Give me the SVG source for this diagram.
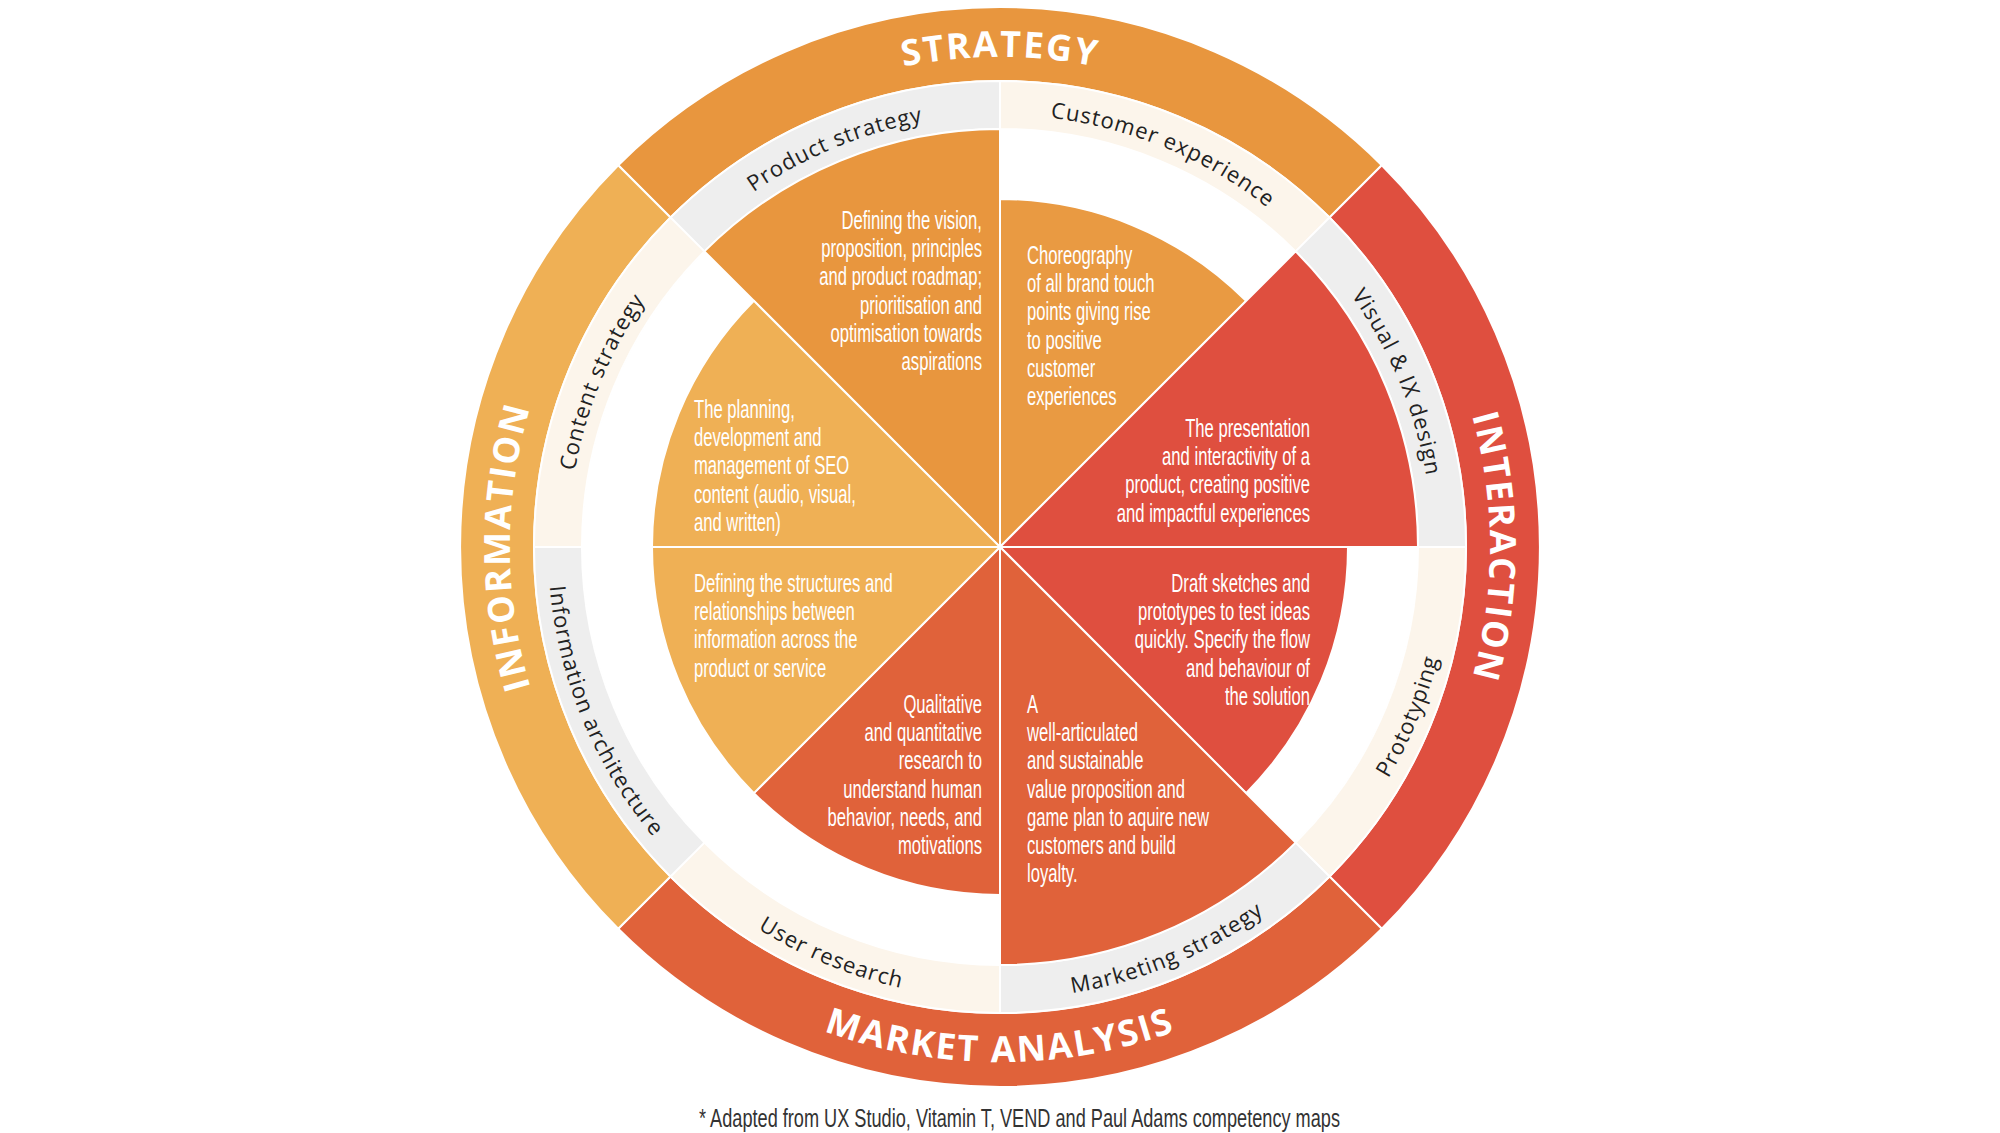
<svg xmlns="http://www.w3.org/2000/svg" width="2000" height="1133" viewBox="0 0 2000 1133">
<style>
.sep{stroke:#fff;stroke-width:2}
.ol{font-family:"Open Sans","Liberation Sans",sans-serif;font-weight:bold;font-size:36px;fill:#fff;letter-spacing:2px}
.sl{font-family:"Open Sans","Liberation Sans",sans-serif;font-size:22px;fill:#222;letter-spacing:1px}
.wt{font-family:"Liberation Sans Narrow","Liberation Sans",sans-serif;font-size:26px;fill:#fff}
.r{text-anchor:end}
</style>
<defs>
<path id="pS" d="M653.5,200.5 A490 490 0 0 1 1346.5,200.5"/>
<path id="pI" d="M1346.5,200.5 A490 490 0 0 1 1346.5,893.5"/>
<path id="pN" d="M653.5,893.5 A490 490 0 0 1 653.5,200.5"/>
<path id="pM" d="M635.8,911.2 A515 515 0 0 0 1364.2,911.2"/>
<path id="qP" d="M694.5,241.5 A432 432 0 0 1 1000,115"/>
<path id="qC" d="M1000,115 A432 432 0 0 1 1305.5,241.5"/>
<path id="qV" d="M1305.5,241.5 A432 432 0 0 1 1432,547"/>
<path id="qT" d="M568,547 A432 432 0 0 1 694.5,241.5"/>
<path id="qR" d="M1319.6,866.6 A452 452 0 0 0 1452,547"/>
<path id="qM" d="M1000,999 A452 452 0 0 0 1319.6,866.6"/>
<path id="qU" d="M680.4,866.6 A452 452 0 0 0 1000,999"/>
<path id="qA" d="M548,547 A452 452 0 0 0 680.4,866.6"/>
</defs>
<rect width="2000" height="1133" fill="#fff"/>
<g id="outer-ring" class="sep">
<path id="ring-strategy" fill="#E8963E" d="M618.2,165.2 A540 540 0 0 1 1381.8,165.2 L1329.5,217.5 A466 466 0 0 0 670.5,217.5 Z"/>
<path id="ring-interaction" fill="#DF4F3F" d="M1381.8,165.2 A540 540 0 0 1 1381.8,928.8 L1329.5,876.5 A466 466 0 0 0 1329.5,217.5 Z"/>
<path id="ring-market" fill="#E0623A" d="M1381.8,928.8 A540 540 0 0 1 618.2,928.8 L670.5,876.5 A466 466 0 0 0 1329.5,876.5 Z"/>
<path id="ring-information" fill="#EFB055" d="M618.2,928.8 A540 540 0 0 1 618.2,165.2 L670.5,217.5 A466 466 0 0 0 670.5,876.5 Z"/>
</g>
<g id="sub-ring" class="sep">
<path fill="#EEEEEE" d="M670.5,217.5 A466 466 0 0 1 1000,81 L1000,129 A418 418 0 0 0 704.4,251.4 Z"/>
<path fill="#FCF5EB" d="M1000,81 A466 466 0 0 1 1329.5,217.5 L1295.6,251.4 A418 418 0 0 0 1000,129 Z"/>
<path fill="#EEEEEE" d="M1329.5,217.5 A466 466 0 0 1 1466,547 L1418,547 A418 418 0 0 0 1295.6,251.4 Z"/>
<path fill="#FCF5EB" d="M1466,547 A466 466 0 0 1 1329.5,876.5 L1295.6,842.6 A418 418 0 0 0 1418,547 Z"/>
<path fill="#EEEEEE" d="M1329.5,876.5 A466 466 0 0 1 1000,1013 L1000,965 A418 418 0 0 0 1295.6,842.6 Z"/>
<path fill="#FCF5EB" d="M1000,1013 A466 466 0 0 1 670.5,876.5 L704.4,842.6 A418 418 0 0 0 1000,965 Z"/>
<path fill="#EEEEEE" d="M670.5,876.5 A466 466 0 0 1 534,547 L582,547 A418 418 0 0 0 704.4,842.6 Z"/>
<path fill="#FCF5EB" d="M534,547 A466 466 0 0 1 670.5,217.5 L704.4,251.4 A418 418 0 0 0 582,547 Z"/>
</g>
<g id="wedges" class="sep">
<path id="w-product" fill="#E8963E" d="M1000,547 L1000,129 A418 418 0 0 0 704.4,251.4 Z"/>
<path id="w-customer" fill="#E99A42" d="M1000,547 L1000,199 A348 348 0 0 1 1246.1,300.9 Z"/>
<path id="w-visual" fill="#DF4F3F" d="M1000,547 L1295.6,251.4 A418 418 0 0 1 1418,547 Z"/>
<path id="w-proto" fill="#DF4F3F" d="M1000,547 L1348,547 A348 348 0 0 1 1246.1,793.1 Z"/>
<path id="w-marketing" fill="#E0623A" d="M1000,547 L1295.6,842.6 A418 418 0 0 1 1000,965 Z"/>
<path id="w-user" fill="#E0623A" d="M1000,547 L1000,895 A348 348 0 0 1 753.9,793.1 Z"/>
<path id="w-infoarch" fill="#EFB055" d="M1000,547 L753.9,793.1 A348 348 0 0 1 652,547 Z"/>
<path id="w-content" fill="#EFB055" d="M1000,547 L652,547 A348 348 0 0 1 753.9,300.9 Z"/>
</g>
<g id="ring-labels">
<text class="ol"><textPath href="#pS" startOffset="50%" text-anchor="middle">STRATEGY</textPath></text>
<text class="ol"><textPath href="#pI" startOffset="50%" text-anchor="middle">INTERACTION</textPath></text>
<text class="ol"><textPath href="#pN" startOffset="50%" text-anchor="middle">INFORMATION</textPath></text>
<text class="ol"><textPath href="#pM" startOffset="50%" text-anchor="middle">MARKET ANALYSIS</textPath></text>
<text class="sl"><textPath href="#qP" startOffset="50%" text-anchor="middle">Product strategy</textPath></text>
<text class="sl"><textPath href="#qC" startOffset="50%" text-anchor="middle">Customer experience</textPath></text>
<text class="sl"><textPath href="#qV" startOffset="50%" text-anchor="middle">Visual &amp; IX design</textPath></text>
<text class="sl"><textPath href="#qT" startOffset="50%" text-anchor="middle">Content strategy</textPath></text>
<text class="sl"><textPath href="#qR" startOffset="50%" text-anchor="middle">Prototyping</textPath></text>
<text class="sl"><textPath href="#qM" startOffset="50%" text-anchor="middle">Marketing strategy</textPath></text>
<text class="sl"><textPath href="#qU" startOffset="50%" text-anchor="middle">User  research</textPath></text>
<text class="sl"><textPath href="#qA" startOffset="50%" text-anchor="middle">Information architecture</textPath></text>
</g>
<g id="wedge-texts">
<text class="wt r" transform="translate(982,229) scale(0.64,1)"><tspan x="0">Defining the vision,</tspan><tspan x="0" dy="28.2">proposition, principles</tspan><tspan x="0" dy="28.2">and product roadmap;</tspan><tspan x="0" dy="28.2">prioritisation and</tspan><tspan x="0" dy="28.2">optimisation towards</tspan><tspan x="0" dy="28.2">aspirations</tspan></text>
<text class="wt" transform="translate(1027,264) scale(0.64,1)"><tspan x="0">Choreography</tspan><tspan x="0" dy="28.2">of all brand touch</tspan><tspan x="0" dy="28.2">points giving rise</tspan><tspan x="0" dy="28.2">to positive</tspan><tspan x="0" dy="28.2">customer</tspan><tspan x="0" dy="28.2">experiences</tspan></text>
<text class="wt r" transform="translate(1310,437) scale(0.64,1)"><tspan x="0">The presentation</tspan><tspan x="0" dy="28.2">and interactivity of a</tspan><tspan x="0" dy="28.2">product, creating positive</tspan><tspan x="0" dy="28.2">and impactful experiences</tspan></text>
<text class="wt" transform="translate(694,418) scale(0.64,1)"><tspan x="0">The planning,</tspan><tspan x="0" dy="28.2">development and</tspan><tspan x="0" dy="28.2">management of SEO</tspan><tspan x="0" dy="28.2">content (audio, visual,</tspan><tspan x="0" dy="28.2">and written)</tspan></text>
<text class="wt" transform="translate(694,592) scale(0.64,1)"><tspan x="0">Defining the structures and</tspan><tspan x="0" dy="28.2">relationships between</tspan><tspan x="0" dy="28.2">information across the</tspan><tspan x="0" dy="28.2">product or service</tspan></text>
<text class="wt r" transform="translate(1310,592) scale(0.64,1)"><tspan x="0">Draft sketches and</tspan><tspan x="0" dy="28.2">prototypes to test ideas</tspan><tspan x="0" dy="28.2">quickly. Specify the flow</tspan><tspan x="0" dy="28.2">and behaviour of</tspan><tspan x="0" dy="28.2">the solution</tspan></text>
<text class="wt r" transform="translate(982,713) scale(0.64,1)"><tspan x="0">Qualitative</tspan><tspan x="0" dy="28.2">and quantitative</tspan><tspan x="0" dy="28.2">research to</tspan><tspan x="0" dy="28.2">understand human</tspan><tspan x="0" dy="28.2">behavior, needs, and</tspan><tspan x="0" dy="28.2">motivations</tspan></text>
<text class="wt" transform="translate(1027,713) scale(0.64,1)"><tspan x="0">A</tspan><tspan x="0" dy="28.2">well-articulated</tspan><tspan x="0" dy="28.2">and sustainable</tspan><tspan x="0" dy="28.2">value proposition and</tspan><tspan x="0" dy="28.2">game plan to aquire new</tspan><tspan x="0" dy="28.2">customers and build</tspan><tspan x="0" dy="28.2">loyalty.</tspan></text>
</g>
<text id="footnote" x="699" y="1127" textLength="641" lengthAdjust="spacingAndGlyphs" font-family="Liberation Sans Narrow,Liberation Sans,sans-serif" font-size="26" fill="#333">* Adapted from UX Studio, Vitamin T, VEND and Paul Adams competency maps</text>
</svg>
